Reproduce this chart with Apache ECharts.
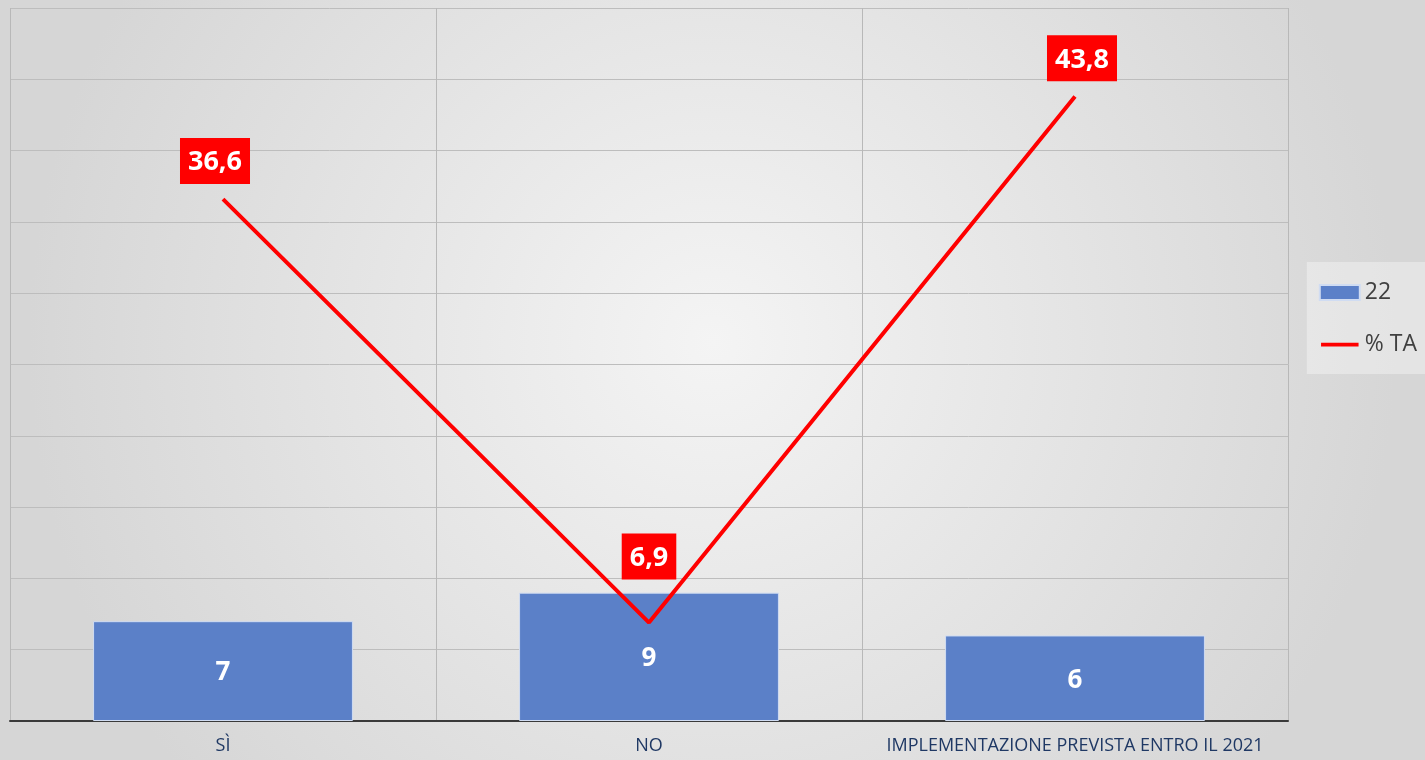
<!DOCTYPE html>
<html>
<head>
<meta charset="utf-8">
<script src="https://cdn.jsdelivr.net/npm/echarts@6/dist/echarts.min.js"></script>
<style>
html,body{margin:0;padding:0;}
#c{width:1425px;height:760px;}
</style>
</head>
<body>
<div id="c"></div>
<script>
const categories = ['SÌ', 'NO', 'IMPLEMENTAZIONE PREVISTA ENTRO IL 2021'];
const barName = '22';
const barValues = [7, 9, 6];
const lineName = '% TA';
const lineValues = [36.6, 6.9, 43.8];

// label nudges (style only)
const lineLabelShift = [[-8, 0], [0, -28], [7, 0]];

const chart = echarts.init(document.getElementById('c'));
const fmt = v => String(v).replace('.', ',');
chart.setOption({
  backgroundColor: {
    type: 'radial', x: 0.5, y: 0.45, r: 0.9,
    colorStops: [{offset: 0, color: '#f4f4f4'}, {offset: 1, color: '#d6d6d6'}]
  },
  animation: false,
  grid: {left: 10, right: 137, top: 8, bottom: 39, containLabel: false},
  legend: {
    orient: 'vertical', right: 0, top: 262,
    backgroundColor: 'rgba(255,255,255,0.35)',
    padding: [19, 8, 18, 12],
    itemWidth: 40, itemHeight: 15, itemGap: 29,
    textStyle: {fontFamily: 'Open Sans', fontSize: 23, color: '#404040'},
    data: [
      {name: barName, icon: 'rect'},
      {name: lineName, icon: 'path://M0,0h0.01v0.01h-0.01z M0,6h40v4h-40z M39.99,15.99h0.01v0.01h-0.01z'}
    ]
  },
  xAxis: {
    type: 'category', data: categories,
    axisLine: {show: true, lineStyle: {color: '#3a3a3a', width: 2}},
    axisTick: {show: false},
    splitLine: {show: true, lineStyle: {color: '#b8b8b8', width: 1}},
    axisLabel: {fontFamily: 'Open Sans', fontSize: 18, color: '#1f3864', margin: 16, interval: 0}
  },
  yAxis: {
    type: 'value', min: 0, max: 50, interval: 5,
    axisLabel: {show: false},
    axisLine: {show: false}, axisTick: {show: false},
    splitLine: {show: true, lineStyle: {color: '#bdbdbd', width: 1}}
  },
  series: [
    {
      name: barName, type: 'bar', data: barValues,
      barCategoryGap: '39%',
      itemStyle: {color: '#5b80c8', borderColor: '#d0dcf2', borderWidth: 1},
      label: {show: true, position: 'inside', offset: [0, 2], color: '#ffffff', fontFamily: 'Open Sans', fontWeight: 'bold', fontSize: 26}
    },
    {
      name: lineName, type: 'line',
      data: lineValues.map((v, i) => ({value: v, label: {offset: lineLabelShift[i]}})),
      symbol: 'circle', symbolSize: 0.1, showSymbol: true, z: 5,
      lineStyle: {color: '#ff0000', width: 4},
      itemStyle: {color: '#ff0000'},
      label: {
        show: true, position: 'top', distance: 15,
        formatter: p => fmt(p.value),
        backgroundColor: '#ff0000', color: '#ffffff',
        fontFamily: 'Open Sans', fontWeight: 'bold', fontSize: 27,
        padding: [11, 8, 8, 8]
      }
    }
  ]
});
</script>
</body>
</html>
